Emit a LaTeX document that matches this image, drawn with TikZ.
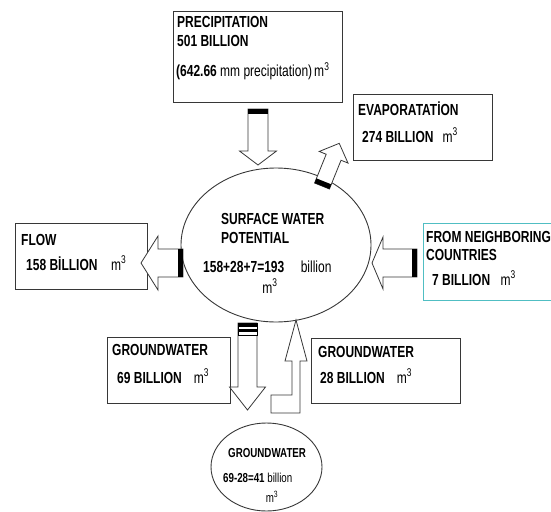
\documentclass[tikz,border=0pt]{standalone}
\usepackage{fontspec}
\setmainfont{Liberation Sans}
\usetikzlibrary{shapes.geometric}
\usetikzlibrary{positioning}
\definecolor{mcyan}{RGB}{80,190,195}
\definecolor{mgray}{RGB}{55,55,55}
\tikzset{box/.style = {draw=mgray, line width=1pt, anchor=north west, inner sep=0pt},
         oval/.style = {draw=mgray, line width=0.9pt, ellipse, inner sep=0pt},
         txt/.style = {anchor=base west, inner sep=0pt,
                       font=\bfseries\fontsize{16}{19}\selectfont},
         smalltxt/.style = {txt, font=\bfseries\fontsize{13}{16}\selectfont},
         blockline/.style = {draw=mgray, line width=0.8pt, fill=white, line join=miter}}
% tail, angle, length, head length, shaft half width, head half width
\newcommand{\blockarrow}[6]{%
  \begin{scope}[shift={(#1)}, rotate=#2]
    \draw[blockline] (0,-#5) -- (#3-#4,-#5) -- (#3-#4,-#6) -- (#3,0)
      -- (#3-#4,#6) -- (#3-#4,#5) -- (0,#5) -- cycle;
    \fill[black] (0,-#5) rectangle (5,#5);
  \end{scope}}
\newcommand{\sq}[1]{\scalebox{0.75}[1]{#1}}
\newcommand{\cube}{\mdseries m\textsuperscript{3}}

\begin{document}
\begin{tikzpicture}[x=1pt, y=-1pt]
      \useasboundingbox (0,0) rectangle (551,511);
      % boxes and ovals
      \node[box, minimum width=169pt, minimum height=91pt] (precip) at (173,11) {};
      \node[box, minimum width=139pt, minimum height=66pt] (evap) at (353,94) {};
      \node[box, minimum width=132pt, minimum height=66pt] (flow) at (15,223) {};
      \node[box, draw=mcyan, minimum width=170pt, minimum height=77pt] (neighbor) at (423,223) {};
      \node[box, minimum width=123pt, minimum height=66pt] (gwleft) at (107,337) {};
      \node[box, minimum width=149pt, minimum height=65pt] (gwright) at (311,338) {};
      \node[oval, minimum width=190pt, minimum height=154pt] (surface) at (276,245) {};
      \node[oval, minimum width=111pt, minimum height=88pt] (ground) at (266.5,467) {};

      % texts
      \node[txt] (precip-1) at (177,28) {\sq{PRECIPITATION}};
      \node[txt] (precip-2) at (177,47) {\sq{501 BILLION}};
      \node[txt] (precip-3) at (176,77) {\sq{(642.66 \mdseries mm precipitation)\,\cube}};
      \node[txt] (evap-1) at (358,115) {\sq{EVAPORATATİON}};
      \node[txt] (evap-2) at (362,142) {\sq{274 BILLION\hspace{12pt}\cube}};
      \node[txt] (flow-1) at (21,245) {\sq{FLOW}};
      \node[txt] (flow-2) at (26,270) {\sq{158 BİLLION\hspace{18pt}\cube}};
      \node[txt] (surface-1) at (221,224) {\sq{SURFACE WATER}};
      \node[txt] (surface-2) at (221,243) {\sq{POTENTIAL}};
      \node[txt] (surface-3) at (203,272) {\sq{158+28+7=193\hspace{22pt}\mdseries billion}};
      \node[txt, anchor=base] (surface-4) at (270,293) {\sq{\cube}};
      \node[txt] (neighbor-1) at (426,242) {\sq{FROM NEIGHBORING}};
      \node[txt] (neighbor-2) at (426,260) {\sq{COUNTRIES}};
      \node[txt] (neighbor-3) at (432,285) {\sq{7 BILLION\hspace{14pt}\cube}};
      \node[txt] (gwleft-1) at (112,355) {\sq{GROUNDWATER}};
      \node[txt] (gwleft-2) at (117,383) {\sq{69 BILLION\hspace{16pt}\cube}};
      \node[txt] (gwright-1) at (318,357) {\sq{GROUNDWATER}};
      \node[txt] (gwright-2) at (320,383) {\sq{28 BILLION\hspace{16pt}\cube}};
      \node[smalltxt] (ground-1) at (228,457) {\sq{GROUNDWATER}};
      \node[smalltxt] (ground-2) at (223,482) {\sq{69-28=41 \mdseries billion}};
      \node[smalltxt, anchor=base] (ground-3) at (272,502) {\sq{\cube}};

      % block arrows
      \coordinate (precip-tail) at ([yshift=-6pt]precip.south);
      \coordinate (evap-tail) at (322,186);
      \coordinate (flow-tail) at (183,263);
      \coordinate (neighbor-tail) at (417,263);
      \coordinate (gwleft-tail) at (247.5,323);
      \blockarrow{precip-tail}{-90}{56}{14}{10}{18.5}
      \blockarrow{evap-tail}{68}{46}{15}{8}{15.5}
      \blockarrow{flow-tail}{180}{42}{17}{14}{27}
      \blockarrow{neighbor-tail}{180}{45}{11}{14}{26}
      \blockarrow{gwleft-tail}{-90}{87}{23}{9.5}{18}
      \draw[fill=white, line width=0.6pt] (238,323) rectangle (257,335);
      \fill (238,323) rectangle (257,327);
      \fill (238,329) rectangle (257,331.5);
      \draw[blockline] (271,413) -- (271,395) -- (292,395) -- (292,361) -- (285,361)
        -- (296,320) -- (307,361) -- (300,361) -- (300,413) -- cycle;
\end{tikzpicture}
\end{document}
